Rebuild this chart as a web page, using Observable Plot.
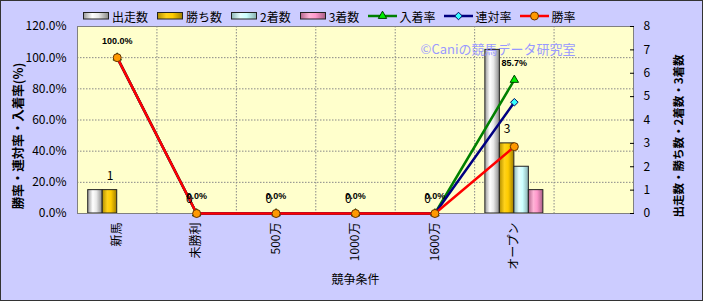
<!DOCTYPE html>
<html><head><meta charset="utf-8">
<script src="https://cdn.jsdelivr.net/npm/d3@7"></script>
<script src="https://cdn.jsdelivr.net/npm/@observablehq/plot@0.6"></script>
<style>
body{margin:0;}
#wrap{position:relative;width:703px;height:301px;background:#ccccff;font-family:"Noto Sans CJK JP",sans-serif;overflow:hidden;}
#chart{position:absolute;left:0;top:0;}
#border{position:absolute;left:0;top:0;width:703px;height:301px;box-sizing:border-box;border:1px solid #333;pointer-events:none;}
#legend{position:absolute;left:83px;top:8px;height:16px;display:flex;align-items:center;gap:9px;font-size:12px;color:#000;}
.item{display:flex;align-items:center;gap:2px;}
.item svg{display:block;}
</style></head><body>
<div id="wrap"><div id="chart"></div><div id="legend"></div><div id="border"></div></div>
<script>
const categories = ["新馬","未勝利","500万","1000万","1600万","オープン"];
const starts  = [1,0,0,0,0,7];
const wins    = [1,0,0,0,0,3];
const seconds = [0,0,0,0,0,2];
const thirds  = [0,0,0,0,0,1];
const winRate    = [100,0,0,0,0,42.9];
const rentaiRate = [100,0,0,0,0,71.4];
const placeRate  = [100,0,0,0,0,85.7];
const pctTicks = [0,20,40,60,80,100,120];
const countTicks = [0,1,2,3,4,5,6,7,8];
const barNames = ["出走数","勝ち数","2着数","3着数"];
const lineNames = ["入着率","連対率","勝率"];
const leftTitle = "勝率・連対率・入着率(%)";
const rightTitle = "出走数・勝ち数・2着数・3着数";
const xTitle = "競争条件";
const watermark = "©Caniの競馬データ研究室";

const W = 703, H = 301, ML = 77, MR = 70, MT = 26, MB = 88;
const bw = (W - ML - MR) / 7;
const K = 120 / 8;
const barW = 14.5;
const off0 = bw / 2 - 2 * barW;

const rows = categories.map((c, i) => ({
  cat: c, starts: starts[i], wins: wins[i], seconds: seconds[i], thirds: thirds[i],
  win: winRate[i], rentai: rentaiRate[i], place: placeRate[i]
}));

const barSeries = [
  {key: "starts", grad: "g0", stops: ["#9a9a9a", "#ffffff", "#e8e8e8", "#8a8a8a"]},
  {key: "wins", grad: "g1", stops: ["#b38f00", "#ffd21a", "#ffcc00", "#a07f00"]},
  {key: "seconds", grad: "g2", stops: ["#8fb8b8", "#e6ffff", "#ccffff", "#88b0b0"]},
  {key: "thirds", grad: "g3", stops: ["#b3668c", "#ffb3d6", "#ff99cc", "#a85f85"]}
];
const lineSeries = [
  {key: "place", color: "#008000", symbol: "triangle2", r: 4, fill: "#00ee00", mstroke: "#004000"},
  {key: "rentai", color: "#000080", symbol: "diamond2", r: 3.4, fill: "#33ffff", mstroke: "#000060"},
  {key: "win", color: "#ff0000", symbol: "circle", r: 4, fill: "#ff9900", mstroke: "#663300"}
];

const marks = [
  Plot.frame({fill: "#ffffcc"}),
  Plot.gridY(pctTicks, {stroke: "#888", strokeOpacity: 1, strokeDasharray: "1.5,1.5"}),
  Plot.ruleX(categories, {dx: bw / 2, stroke: "#888", strokeDasharray: "1.5,1.5"}),
  ...barSeries.map((s, i) => Plot.barY(rows, {
    x: "cat", y: d => d[s.key] * K, fill: `url(#${s.grad})`, stroke: "#222", strokeWidth: 1,
    insetLeft: off0 + barW * i, insetRight: bw - (off0 + barW * (i + 1))
  })),
  Plot.frame({stroke: "#808080"}),
  ...lineSeries.flatMap(s => [
    Plot.line(rows, {x: "cat", y: s.key, stroke: s.color, strokeWidth: 2.5}),
    Plot.dot(rows, {x: "cat", y: s.key, symbol: s.symbol, r: s.r, fill: s.fill, stroke: s.mstroke, strokeWidth: 1})
  ]),
  Plot.text(rows, {x: "cat", y: d => d.wins * K, text: d => String(d.wins), dy: -14, dx: -barW / 2, fontSize: 12, fill: "#000"}),
  Plot.text(rows, {x: "cat", y: "place", text: d => d.place.toFixed(1) + "%", dy: -17, fontSize: 9, fontWeight: "bold", fontFamily: "Liberation Sans", fill: "#000"}),
  Plot.axisY(pctTicks, {anchor: "left", tickSize: 0, tickPadding: 11, tickFormat: d => d.toFixed(1) + "%", label: null, fontSize: 12}),
  Plot.axisY(countTicks.map(d => d * K), {anchor: "right", tickSize: -4, tickPadding: 14, tickFormat: d => String(Math.round(d / K)), label: null, fontSize: 12}),
  Plot.axisX({tickSize: 0, tickRotate: -90, tickPadding: 9, label: null, fontSize: 12}),
  Plot.text([leftTitle], {frameAnchor: "left", textAnchor: "middle", dx: -59, dy: 16, rotate: -90, fontSize: 12.5, fontWeight: "bold", fill: "#000"}),
  Plot.text([rightTitle], {frameAnchor: "right", textAnchor: "middle", dx: 46, dy: 16, rotate: -90, fontSize: 11.5, fontWeight: "bold", fill: "#000"}),
  Plot.text([xTitle], {frameAnchor: "bottom", dy: 70, fontSize: 12, fill: "#000"}),
  Plot.text([watermark], {frameAnchor: "top-right", dx: -58, dy: 18, textAnchor: "end", fill: "#9999ff", fontSize: 13})
];

const svg = Plot.plot({
  width: W, height: H,
  marginLeft: ML, marginRight: MR, marginTop: MT, marginBottom: MB,
  style: {background: "transparent", fontFamily: "'Noto Sans CJK JP', sans-serif", fontSize: "12px", color: "#000", overflow: "visible"},
  x: {type: "band", domain: [...categories, " "], padding: 0, round: false},
  y: {domain: [0, 120]},
  marks
});

const defs = d3.select(svg).insert("defs", ":first-child");
barSeries.forEach(s => {
  const g = defs.append("linearGradient").attr("id", s.grad).attr("x1", "0").attr("x2", "1").attr("y1", "0").attr("y2", "0");
  [0, 0.35, 0.6, 1].forEach((o, j) => g.append("stop").attr("offset", o).attr("stop-color", s.stops[j]));
});
document.getElementById("chart").appendChild(svg);

// legend
const legend = d3.select("#legend");
barSeries.forEach((s, i) => {
  const it = legend.append("div").attr("class", "item");
  const sv = it.append("svg").attr("width", 27).attr("height", 8);
  sv.append("rect").attr("x", 0.5).attr("y", 0.5).attr("width", 25).attr("height", 6.5)
    .attr("fill", `url(#${s.grad})`).attr("stroke", "#222");
  it.append("span").text(barNames[i]);
});
lineSeries.forEach((s, i) => {
  const it = legend.append("div").attr("class", "item");
  const sv = it.append("svg").attr("width", 29).attr("height", 12);
  sv.append("line").attr("x1", 0).attr("x2", 29).attr("y1", 6).attr("y2", 6).attr("stroke", s.color).attr("stroke-width", 2.5);
  const sym = {circle: d3.symbolCircle, diamond2: d3.symbolDiamond2, triangle2: d3.symbolTriangle2}[s.symbol];
  sv.append("path").attr("transform", "translate(14.5,6)")
    .attr("d", d3.symbol(sym, s.r * s.r * Math.PI)())
    .attr("fill", s.fill).attr("stroke", s.mstroke);
  it.append("span").text(lineNames[i]);
});
</script>
</body></html>
